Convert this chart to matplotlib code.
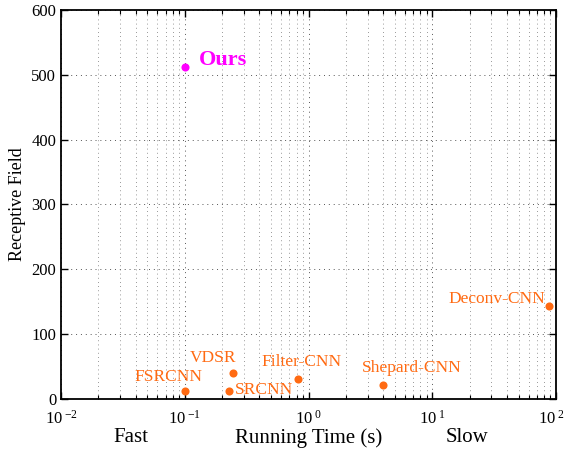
import numpy as np
import matplotlib
matplotlib.use('Agg')
import matplotlib.pyplot as plt
import matplotlib.transforms as mtransforms

plt.rcParams['font.family'] = ['Liberation Serif', 'DejaVu Serif']
plt.rcParams['mathtext.fontset'] = 'custom'
plt.rcParams['mathtext.rm'] = 'Liberation Serif'
plt.rcParams['mathtext.it'] = 'Liberation Serif:italic'

# Data
methods = ['FSRCNN', 'SRCNN', 'VDSR', 'Filter-CNN', 'Shepard-CNN', 'Deconv-CNN']
run_time = [0.1, 0.228, 0.245, 0.82, 4.0, 88.0]
rec_field = [12, 12, 40, 31, 22, 143]
ours_time = 0.1
ours_field = 512
xtick_vals = [1e-2, 1e-1, 1e0, 1e1, 1e2]
xtick_labels = [r'$\mathrm{10}^{\;\mathrm{-2}}$', r'$\mathrm{10}^{\;\mathrm{-1}}$',
                r'$\mathrm{10}^{\;\mathrm{0}}$', r'$\mathrm{10}^{\;\mathrm{1}}$',
                r'$\mathrm{10}^{\;\mathrm{2}}$']

# label offsets in points (dx, dy, ha)
offsets = {
    'FSRCNN': (-11.5, 10, 'center'),
    'SRCNN': (4.3, 0.7, 'left'),
    'VDSR': (-14, 10.8, 'center'),
    'Filter-CNN': (2.5, 12.2, 'center'),
    'Shepard-CNN': (21, 12.2, 'center'),
    'Deconv-CNN': (-3, 5, 'right'),
}

orange = '#ff6a12'
magenta = '#ff00ff'

fig = plt.figure(figsize=(5.65, 4.49), dpi=100)
ax = fig.add_axes([61 / 565, 50 / 449, 495 / 565, 389 / 449])

ax.scatter(run_time, rec_field, s=34, color=orange, zorder=3, linewidths=0)
for m, t, r in zip(methods, run_time, rec_field):
    dx, dy, ha = offsets[m]
    ax.annotate(m, (t, r), xytext=(dx, dy), textcoords='offset points',
                ha=ha, va='center', color=orange, fontsize=12.5)

ax.scatter([ours_time], [ours_field], s=34, color=magenta, zorder=3, linewidths=0)
ax.annotate('Ours', (ours_time, ours_field), xytext=(10, 5), textcoords='offset points',
            ha='left', va='center', color=magenta, fontsize=16, fontweight='bold')

ax.set_xscale('log')
ax.set_xlim(1e-2, 1e2)
ax.set_ylim(0, 600)
ax.set_yticks(np.arange(0, 601, 100))
ax.set_xticks(xtick_vals)
ax.set_xticklabels(xtick_labels)

ax.grid(True, which='major', linestyle=(0, (1, 4)), color='#555555', linewidth=0.7)
ax.grid(True, which='minor', axis='x', linestyle=(0, (1, 4)), color='#777777', linewidth=0.6)
ax.tick_params(which='both', direction='in', top=True, right=True, labelsize=12)
ax.tick_params(axis='x', pad=8)
ax.tick_params(which='major', length=5, width=1)
ax.tick_params(which='minor', length=3, width=0.8)
for sp in ax.spines.values():
    sp.set_linewidth(1.3)

# keep the last x tick label inside the figure
last = ax.get_xticklabels()[-1]
last.set_transform(last.get_transform() +
                   mtransforms.ScaledTranslation(-5 / 100, 0, fig.dpi_scale_trans))

ax.set_ylabel('Receptive Field', fontsize=13)
ax.set_xlabel('Running Time (s)', fontsize=15, va='center')
ax.xaxis.set_label_coords(0.5, (399 - 438) / 389)
fig.text(131 / 565, 1 - 438 / 449, 'Fast', ha='center', va='center', fontsize=15)
fig.text(467 / 565, 1 - 438 / 449, 'Slow', ha='center', va='center', fontsize=15)

fig.savefig('out.png', dpi=100)
